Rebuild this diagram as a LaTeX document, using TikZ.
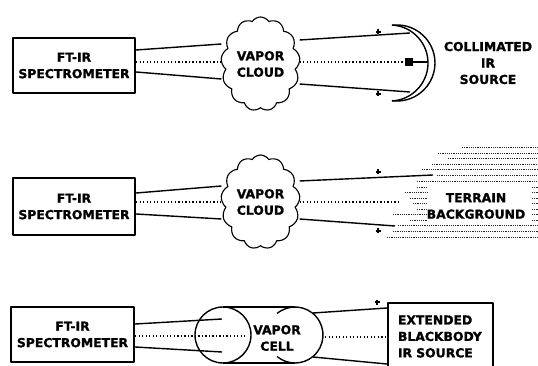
\documentclass[tikz,border=0pt]{standalone}
\usepackage{fontspec}
\setmainfont{DejaVu Sans}[BoldFeatures={FakeBold=1.2}]
\usetikzlibrary{positioning, shapes.symbols, calc}

\begin{document}
\begin{tikzpicture}[x=0.025cm, y=-0.025cm, line join=round,
    font=\bfseries\fontsize{8.8}{11.7}\selectfont,
    instr/.style={draw, line width=1.5pt, minimum width=3.05cm,
          minimum height=1.375cm, align=center, inner sep=0pt},
    vapor/.style={cloud, draw, line width=0.8pt, cloud puffs=13,
          cloud puff arc=115, cloud ignores aspect, minimum width=1.975cm,
          minimum height=2.35cm, inner sep=0pt, align=center},
    ray/.style={line width=1pt},
    axis/.style={line width=0.8pt, dash pattern=on 0.9pt off 1.6pt},
    tick/.style={line width=1pt},
    grain/.style={line width=0.7pt, black!85, dash pattern=on 0.6pt off 0.7pt}]
  \useasboundingbox (0,0) rectangle (538,366);
  \clip (0,0) rectangle (538,366);

  % --- collimated source
  \node[instr] (spec1) at (74,65.5) {FT-IR\\SPECTROMETER};
  \node[vapor] (cloud1) at (260.5,64) {VAPOR\\CLOUD};
  \node[fill, minimum size=0.2cm, inner sep=0pt] (lamp) at (409,62) {};
  \coordinate (m1top) at (410,33);
  \coordinate (m1bot) at (410,92);
  \coordinate (m1mid) at (428,62);
  \draw[ray] (spec1.east |- 0,50) -- (cloud1.west |- 0,44);
  \draw[ray] (spec1.east |- 0,72) -- (cloud1.west |- 0,79);
  \draw[axis] (spec1.east |- 0,62) -- (cloud1.west |- 0,62);
  \draw[ray] (cloud1.east |- 0,40) -- (m1top);
  \draw[ray] (cloud1.east |- 0,84) -- (m1bot);
  \draw[axis] (cloud1.east |- 0,62) -- (lamp.west);
  \draw[ray] (lamp.east) -- (m1mid);
  \draw[ray] (397,63) ++(-97.6:38) arc[start angle=-97.6, end angle=97.6, radius=38];
  \draw[ray] (390,63) ++(-87:38) arc[start angle=-87, end angle=87, radius=38];
  \foreach \p in {(378,32),(378,94)}
    \draw[tick] \p ++(-2.5,0) -- ++(5,0) \p ++(0,-2.5) -- ++(0,5);
  \node[align=center] (collim) at (488,63) {COLLIMATED\\IR\\SOURCE};

  % --- terrain background
  \node[instr, minimum height=1.425cm] (spec2) at (74,206.5) {FT-IR\\SPECTROMETER};
  \node[vapor] (cloud2) at (260.5,202) {VAPOR\\CLOUD};
  \coordinate (t2top) at (433,175);
  \coordinate (t2bot) at (395,226);
  \coordinate (t2mid) at (400,202);
  \draw[ray] (spec2.east |- 0,193) -- (cloud2.west |- 0,186);
  \draw[ray] (spec2.east |- 0,214) -- (cloud2.west |- 0,219);
  \draw[axis] (spec2.east |- 0,202) -- (cloud2.west |- 0,202);
  \draw[ray] (cloud2.east |- 0,181) -- (t2top);
  \draw[ray] (cloud2.east |- 0,219) -- (t2bot);
  \draw[axis] (cloud2.east |- 0,202) -- (t2mid);
  \foreach \p in {(378,172),(378,231)}
    \draw[tick] \p ++(-2.5,0) -- ++(5,0) \p ++(0,-2.5) -- ++(0,5);
  \foreach \yy/\xx in {147/462, 153/438, 158/448, 164/432, 169/422, 175/437,
                       181/417, 225/398, 231/393, 237/387}
    \draw[grain] (\xx,\yy) -- (538,\yy);
  \foreach \yy/\xx in {187/417, 192/405, 198/410, 203/413, 209/417, 214/393,
                       220/410} {
    \draw[grain] (\xx,\yy) -- (427,\yy);
    \draw[grain] (532,\yy) -- (538,\yy);
  }
  \node[align=center] (terrain) at (476,206) {TERRAIN\\BACKGROUND};

  % --- gas cell and blackbody
  \node[instr, minimum width=3.075cm] (spec3) at (72.5,334.5) {FT-IR\\SPECTROMETER};
  \node[align=center] (cell) at (277,338) {VAPOR\\CELL};
  \node[instr, minimum width=0pt, minimum height=1.675cm, text width=2.125cm,
        inner xsep=0.25cm, align=left] (blackbody) at (440.5,336.5)
        {EXTENDED\\BLACKBODY\\IR SOURCE};
  \draw[ray] (223,335) circle[radius=28];
  \draw[ray] (295,335) ++(-130:28) arc[start angle=-130, end angle=130, radius=28];
  \draw[ray] (223,307) -- (295,307) (223,363) -- (295,363);
  \coordinate (c3top) at (222,319);
  \coordinate (c3bot) at (222,352);
  \coordinate (c3mid) at (246,336);
  \draw[ray] (spec3.east |- 0,324) -- (c3top);
  \draw[ray] (spec3.east |- 0,347) -- (c3bot);
  \draw[axis] (spec3.east |- 0,336) -- (c3mid);
  \draw[ray] (313,313) -- (blackbody.west |- 0,308);
  \draw[ray] (313,357) -- (blackbody.west |- 0,364);
  \draw[axis] (325,337) -- (blackbody.west |- 0,337);
  \draw[tick] (377,302) ++(-2.5,0) -- ++(5,0) (377,302) ++(0,-2.5) -- ++(0,5);
\end{tikzpicture}
\end{document}
